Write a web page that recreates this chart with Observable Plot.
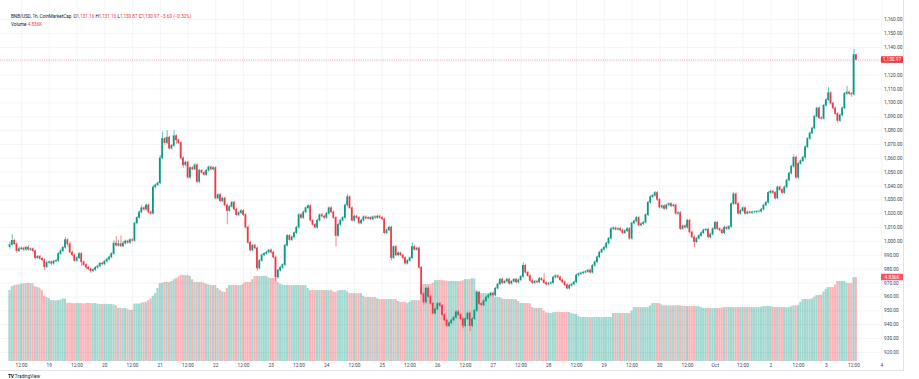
<!DOCTYPE html>
<html><head><meta charset="utf-8">
<script src="https://cdn.jsdelivr.net/npm/d3@7"></script>
<script src="https://cdn.jsdelivr.net/npm/@observablehq/plot@0.6"></script>
<style>
html,body{margin:0;padding:0;background:#fff;}
#wrap{position:relative;width:919px;height:379px;overflow:hidden;font-family:Roboto,"Liberation Sans",sans-serif;color:#131722;}
#wrap svg{position:absolute;left:0;top:0;}
.hdr{position:absolute;left:11px;font-size:4.6px;white-space:nowrap;line-height:1;}
.red{color:#f23645;}
.ln{position:absolute;background:#e0e3eb;}
</style></head><body><div id="wrap"></div>
<script>
// ---- data: BNB/USD 1h candles, 2025-09-18 07:00 UTC .. 2025-10-03 13:00 UTC ----
const startTime = "2025-09-18T07:00:00Z";
const firstOpen = 996;
const closes = [
 997.5,1000.5,998,993,994.5,995,994,995.5,994,994.5,993,988,989,987.5,986.5,981.5,984.5,
 985,984,985.5,986,991,993,995.5,1001,998,992,990,986,988,991,985,983,981,980,978.5,979.5,981,982,984,983.5,
 985.5,987,988.5,991,998.5,997,998,996.5,998.5,1000,999,1001,1000.5,1013,1017,1021,1024,1023,1026,1021,1020,1039,1040.5,1042,
 1060,1074,1071,1075,1067,1069,1076,1073,1071,1060,1055,1057,1046,1053,1052,1055,1043,1051,1049.5,1048,1051,1053.5,1052,1053,
 1031,1033.5,1029,1031,1026,1022,1025,1028,1023,1019,1020.5,1022,1019,1010,999,993.5,997,995,980.5,986,990,991,992,993.5,
 992,988.5,974,979,981,983,997,1004,1001,1003,1006,1010,1019,1017,1021,1024,1025.5,1015,1012,1010,1015,1019,1018,1017,
 1020,1024,1021,1017,1004,1012,1015,1017,1026,1032,1024,1015,1018,1017,1013,1015,1017.5,1016.5,1017,1016,1017.5,1017,1018,1017,
 1016,1006,1008,1010,988,996,990,991.5,990,988,984,986,988,996,994,995,981,962,956,966,960,955,948,951,
 955,953.5,947,943,939,941,943,945,949,947,944,939,944,948,939,944,950,963,955,954,957,959.5,961,962.5,
 961,966,969,972.5,970,971,972.5,969.5,971,972.5,970.5,972,974.5,982.5,977.5,975,971.5,970,971,970.5,973,972,970,969,
 969.5,970,974,975,974,972,970.5,968.5,966,968,969,970.5,975.5,976.5,977,977.5,978,979,977.5,982.5,985,988.5,992,994,
 995.5,998.5,1002,1009,1009.5,1008.5,1009,1008,1006,1007.5,1009,1002,1013,1014.5,1017,1011.5,1012.5,1013.5,1019,1028,1032,1033,1035,1030,
 1024.5,1025.5,1023.5,1026,1027,1025.5,1026,1020,1020.5,1009,1011,1010,1015,1006.5,1003,999.5,1002,1004,1006,1008,1008.5,1003,1005,1009,
 1013.5,1009,1008,1006,1010,1009,1010.5,1027,1034,1027,1020,1022,1024,1020,1021,1020.5,1021,1021,1021.5,1021.5,1023,1026,1028,1035,
 1036,1035,1031,1039,1037,1035,1039,1044,1049,1054,1060.5,1046,1056,1058,1060.5,1068,1074,1078,1081.5,1090,1096,1089,1088.5,1098,
 1102,1107,1099.5,1096,1092,1087,1091,1096,1106.5,1107.5,1106.5,1106,1134.57,1130.97
];
const wickHi = [
 2,4.5,1,1,1.5,1,1,1,1.5,1,1,1,1,1,1,1,1.5,
 1,1,1,1,1,1.5,1,2,1,1.5,1,1,1,1,1,1,1,1,1,1,1,1,1,1,
 1,1,1,1,2,5,3,6,1.5,1,1,1,1,1,1,1,2,1,1,1,1,1.5,1,1,
 2,5,1,5,1,1,4,1,1,1,1,1,1,1,1,1,1,1,1,1,1,1,1,1,
 1,1,1,1,1,1,1,1,1,1,1,1,1,1,1,1,1,1,1,1,1,1,1,1,
 1,1,1,1,1,1,1,1,1,1,1,1,1,1,1,1,1,1,1,1,1,1,1,1,
 1,1,1,1,1,1,1,1,1,2,1,1,1,1,1,1,1,1,1,1,1,1,1,1,
 1,1,1,1,1,1,1,1,1,1,1,1,1,3,1,1,1,1,1,1,1,1,1,1,
 1,1,1,1,1,1,1,1,1,1,1,1,1,1,1,1,1,1,1,1,1,1,1,1,
 1,1,1,1,1,1,1,1,1,1,1,1,1,2,1,1,1,1,1,1,1,1,5,1,
 1,1,1,1,1,1,1,1,1,1,1,1,1,1,1,1,1,1,1,1,1,1,1,1,
 1,1,1,1,1,1,1,1,1,1,1,1,1,1,1,1,1,1,1,1,1,1,1,1,
 1,1,1,1,1,1,1,1,1,1,1,1,1,1,1,1,1,1,1,1,1,1,1,1,
 1,1,1,1,1,1,1,1,1.5,1,1,1,1,1,1,1,1,1,1,1,1,1,1,1,
 1,1,1,1,1,1,1,1,1,1,2,1,1,1,1,1,1,1,1,1,1,1,1,1,
 1,4,1,1,1,1,1,1,1,4.5,1,1,4,0.2
];
const wickLo = [
 1.5,1,1,1.5,1,1,1.5,1,1,1,1,1.5,1,1,1,2.5,1,
 1,1.5,1,1,1,1,1,1,2,1,1,1,1,1,3,1,1.5,1,1.5,1,1,1,1,1,
 1,1,1,1,1,1,1,1,1,1,1,1,1,1,1,1,1,1,1,1.5,1,1,1,1,
 1,1,2,1,1,1,1,3,1,1,2,1,1,1,1,1,1,1,1,1,1,1,1,1,
 1,1,1,1,1,10,1,1,1,1,1,1,1,1,1,1,1,1,2,1,1,1,1,1,
 1,1,3,1,1,1,1,1,1,1,1,1,1,1,1,1,1,1,1,1,1,1,1,1,
 1,1,1,1,8,1,1,1,1,1,1,1,1,1,1,1,1,1,1,1,1,1,1,1,
 1,1,1,1,2,1,1,1,1,1,1,1,1,1,1,1,1,1,2,1,1,1,1,1,
 1,1,1,1,1,1,1,1,1,1,1,2,1,1,4,1,1,1,1,1,1,1,1,1,
 1,1,1,1,1,1,1,1,1,1,1,1,1,1,1,1,1,1,1,1,1,1,1,1,
 1,1,1,1,1,1,1,1,1,1,1,1,1,1,1,1,1,1,1,1,1,1,1,1,
 1,1,1,1,1,1,1,1,1,1,1,1,1,1,1,1,1,1,1,1,1,1,1,1,
 1,1,1,1,1,1,1,1,1,1,1,1,1,1,1,4,1,1,1,1,1,1,1,1,
 1,1,1,1,1,1,1,1,1,1,1,1,1,1,1,1,1,1,1,1,1,1,1,1,
 1,1,1,1,1,1,1,1,1,1,1,1,1,1,1,1,1,1,1,1,1,1,1,1,
 1,1,1,1,1,2,1,1,1,1,1,2,1,0.1
];
const volumesK = [
 4.08,4.3,4.37,4.4,4.4,4.45,4.47,4.48,4.5,4.48,4.46,4.3,4.25,4.22,4.08,3.75,3.68,
 3.62,3.5,3.5,3.48,3.5,3.52,3.6,3.58,3.33,3.35,3.33,3.32,3.34,3.33,3.33,3.3,3.33,3.34,3.33,3.32,3.33,3.3,3.28,3.28,
 3.28,3.29,3.27,3.28,3.26,3.2,3.05,3.06,3.04,3.05,3.0,2.93,2.95,3.3,3.31,3.3,3.35,3.38,3.4,3.5,3.6,3.75,3.9,4.2,
 4.48,4.5,4.54,4.55,4.54,4.6,4.7,4.77,4.85,4.94,4.95,4.93,4.94,4.9,4.7,4.54,4.55,4.53,4.54,4.5,4.45,4.4,4.37,4.36,
 4.37,4.2,4.08,4.0,3.97,4.2,4.37,4.36,4.38,4.37,4.36,4.37,4.45,4.54,4.55,4.54,4.7,4.89,4.9,4.88,4.89,4.9,4.89,4.8,
 4.77,4.78,4.77,4.54,4.45,4.4,4.37,4.38,4.37,4.36,4.37,4.38,4.37,4.36,4.37,4.37,4.2,4.08,4.09,4.08,4.07,4.08,4.09,4.08,
 4.08,4.07,4.08,4.0,3.97,4.05,4.08,4.09,4.08,4.0,3.9,3.91,3.9,3.89,3.9,3.9,3.75,3.68,3.69,3.68,3.67,3.68,3.6,3.56,
 3.56,3.55,3.56,3.57,3.56,3.55,3.56,3.45,3.4,3.41,3.4,3.33,3.4,3.5,3.5,3.49,3.5,4.3,4.42,4.43,4.42,4.42,4.5,4.65,
 4.65,4.66,4.65,4.64,4.62,4.6,4.61,4.6,4.6,4.59,4.6,4.65,4.71,4.7,4.71,4.77,4.75,4.08,4.0,3.9,3.91,3.9,3.9,3.85,
 3.75,3.68,3.69,3.68,3.6,3.56,3.57,3.56,3.56,3.55,3.56,3.45,3.33,3.34,3.33,3.33,3.32,3.1,3.05,3.06,3.05,3.05,2.9,2.8,
 2.78,2.76,2.8,2.82,2.83,2.82,2.82,2.81,2.82,2.82,2.75,2.72,2.7,2.6,2.53,2.53,2.54,2.53,2.52,2.53,2.53,2.54,2.53,2.52,
 2.53,2.53,2.54,2.53,2.76,2.77,2.76,2.75,2.76,2.76,2.77,2.76,2.9,3.1,3.1,3.11,3.1,3.09,3.1,3.1,3.2,3.33,3.34,3.33,
 3.33,3.25,3.2,3.21,3.2,3.19,3.2,3.2,3.21,3.2,3.18,3.16,3.16,3.17,3.16,3.16,3.15,3.16,3.1,3.05,3.05,3.06,3.05,3.04,
 3.05,3.05,3.05,3.08,3.1,3.1,3.11,3.1,3.1,3.09,3.1,3.1,3.1,3.1,3.11,3.1,3.1,3.09,3.1,3.1,3.12,3.16,3.16,3.17,
 3.16,3.12,3.1,3.1,3.11,3.1,3.1,3.09,3.1,3.15,3.2,3.2,3.21,3.4,3.56,3.57,3.56,3.56,3.6,3.7,3.8,3.8,3.82,4.0,
 4.15,4.25,4.26,4.25,4.4,4.6,4.6,4.61,4.6,4.5,4.48,4.48,4.83,4.83
];
const priceTicks = [920,930,940,950,960,970,980,990,1000,1010,1020,1030,1040,1050,1060,1070,1080,1090,1100,1110,1120,1130,1140,1150,1160];
const lastPrice = 1130.97;
const lastPriceLabel = "1,130.97";
const lastVolumeK = 4.83;
const lastVolumeLabel = "4.836K";
const headerSymbol = "BNB/USD, 1h, CoinMarketCap";
const headerOHLC = [["O","1,131.16"],["H","1,131.16"],["L","1,130.87"],["C","1,130.97"]];
const headerChange = "−3.60 (−0.32%)";

// ---- build ----
const HOUR = 3600e3;
const t0 = +new Date(startTime);
const data = closes.map((c, i) => {
  const o = i === 0 ? firstOpen : closes[i - 1];
  return {t: new Date(t0 + i * HOUR), o, c,
          h: Math.max(o, c) + wickHi[i], l: Math.min(o, c) - wickLo[i], v: volumesK[i]};
});
const UP = "#089981", DN = "#f23645";
const UPV = "rgba(8,153,129,0.38)", DNV = "rgba(242,54,69,0.38)";
const ref = Date.UTC(2025, 8, 18, 12);
const xDomain = [new Date(ref - 9.081 * HOUR), new Date(ref + 372.32 * HOUR)];
const yDomain = [913.42, 1173.88];
const xTicks = d3.range(0, 32).map(k => new Date(ref + k * 12 * HOUR));
const xFmt = d => d.getUTCHours() === 12 ? "12:00" : (d.getUTCDate() === 1 ? "Oct" : String(d.getUTCDate()));
const W = 919, H = 379;
const common = {width: W, height: H, marginLeft: 0, marginRight: 37, marginTop: 0, marginBottom: 18,
  style: {background: "transparent", fontFamily: "Roboto, 'Liberation Sans', sans-serif", overflow: "visible"}};

const wrap = document.getElementById("wrap");

// layer 1: grid + axes
const p1 = Plot.plot({...common,
  x: {type: "utc", domain: xDomain}, y: {domain: yDomain},
  marks: [
    Plot.gridX(xTicks, {stroke: "#eef0f4", strokeOpacity: 1, strokeWidth: 0.7}),
    Plot.gridY(priceTicks, {stroke: "#eef0f4", strokeOpacity: 1, strokeWidth: 0.7}),
    Plot.axisX(xTicks, {anchor: "bottom", tickSize: 0, tickPadding: 2.5, tickFormat: xFmt, fontSize: 4.8, fill: "#434651"}),
    Plot.axisY(priceTicks, {anchor: "right", tickSize: 0, tickPadding: 1.5, tickFormat: d3.format(",.2f"), fontSize: 4.8, fill: "#434651"})
  ]});
wrap.appendChild(p1);

// layer 2: volume
const vMax = lastVolumeK * 361 / 84;
const p2 = Plot.plot({...common,
  x: {type: "utc", domain: xDomain, axis: null}, y: {domain: [0, vMax], axis: null},
  marks: [
    Plot.rect(data, {x1: d => new Date(+d.t - 0.45 * HOUR), x2: d => new Date(+d.t + 0.45 * HOUR),
      y1: 0, y2: "v", fill: d => d.c >= d.o ? UPV : DNV})
  ]});
wrap.appendChild(p2);

// layer 3: candles
const p3 = Plot.plot({...common,
  x: {type: "utc", domain: xDomain, axis: null}, y: {domain: yDomain, axis: null},
  marks: [
    Plot.ruleY([lastPrice], {stroke: DN, strokeWidth: 0.6, strokeDasharray: "1,1.2", strokeOpacity: 0.8}),
    Plot.ruleX(data, {x: "t", y1: "l", y2: "h", stroke: d => d.c >= d.o ? UP : DN, strokeWidth: 0.6}),
    Plot.rect(data, {x1: d => new Date(+d.t - 0.36 * HOUR), x2: d => new Date(+d.t + 0.36 * HOUR),
      y1: "o", y2: "c", fill: d => d.c >= d.o ? UP : DN, insetTop: -0.3, insetBottom: -0.3})
  ]});
wrap.appendChild(p3);

// axis value labels
const svg3 = d3.select(p3);
function tag(y, label, color) {
  svg3.append("rect").attr("x", 881).attr("y", y - 3.2).attr("width", 22).attr("height", 6.4).attr("fill", color).attr("rx", 0.5);
  svg3.append("text").attr("x", 892).attr("y", y).attr("dy", "0.35em").attr("text-anchor", "middle")
    .attr("fill", "#fff").attr("font-size", 4.8).attr("font-family", "Roboto, sans-serif").text(label);
}
tag(p3.scale("y").apply(lastPrice), lastPriceLabel, DN);
tag(p2.scale("y").apply(lastVolumeK), lastVolumeLabel, "#f7525f");

// frame lines
const l1 = document.createElement("div"); l1.className = "ln";
l1.style.cssText = "left:0;top:370px;width:904px;height:0.6px;"; wrap.appendChild(l1);
const l2 = document.createElement("div"); l2.className = "ln";
l2.style.cssText = "left:903px;top:0;width:0.6px;height:370px;"; wrap.appendChild(l2);

// header legend
const h1 = document.createElement("div"); h1.className = "hdr"; h1.style.top = "14.5px";
h1.innerHTML = headerSymbol + "&nbsp; " + headerOHLC.map(([k, v]) => k + '<span class="red">' + v + "</span>").join(" ") +
  ' <span class="red">' + headerChange + "</span>";
wrap.appendChild(h1);
const h2 = document.createElement("div"); h2.className = "hdr"; h2.style.top = "22.5px";
h2.innerHTML = 'Volume <span class="red">' + lastVolumeLabel + "</span>";
wrap.appendChild(h2);

// footer logo
const f = document.createElement("div"); f.className = "hdr"; f.style.cssText = "top:374px;left:8px;font-size:4.6px;";
f.innerHTML = '<b style="font-size:5px;letter-spacing:-0.3px">TV</b> TradingView';
wrap.appendChild(f);
</script>
</body></html>
